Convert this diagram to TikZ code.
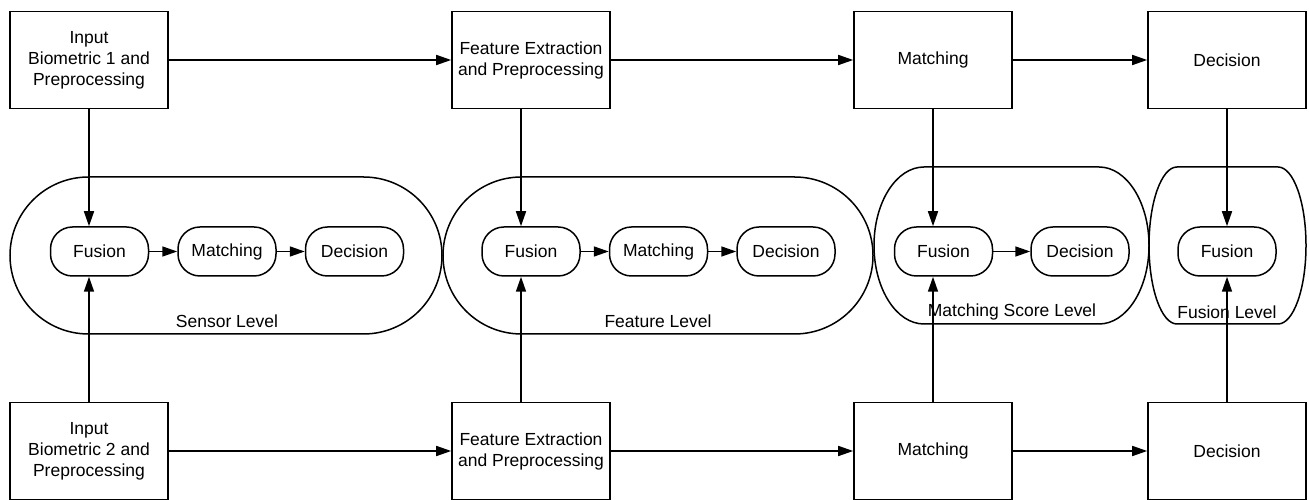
\documentclass[tikz,border=0pt]{standalone}
\usepackage{fontspec}
\setmainfont{Liberation Sans}
\usetikzlibrary{arrows.meta,calc}
\begin{document}
\begin{tikzpicture}[x=1pt,y=1pt,
  font=\fontsize{17.5}{21}\selectfont,
  box/.style={draw,line width=1.6pt,minimum width=158,minimum height=97,align=center,inner sep=2pt},
  pill/.style={draw,line width=1.5pt,rounded corners=22,minimum width=98,minimum height=49,inner sep=2pt},
  cont/.style={draw,line width=1.5pt},
  arr/.style={line width=1.6pt,-{Triangle[length=15pt,width=10pt]}},
  lvl/.style={inner sep=0pt}]
\useasboundingbox (0,0) rectangle (1309,500);
% containers (half-ellipse ends)
\newcommand\capsulepath[6]{%
  \draw[cont] (#1+#5,#4) -- (#3-#5,#4)
    arc[start angle=90,end angle=-90,x radius=#5,y radius=#6]
    -- (#1+#5,#2)
    arc[start angle=270,end angle=90,x radius=#5,y radius=#6] -- cycle;}
\capsulepath{10}{166}{442}{323}{78.5}{78.5}
\capsulepath{443}{166}{873}{323}{78.5}{78.5}
\capsulepath{874}{176}{1149}{333}{50}{78.5}
\capsulepath{1149}{176}{1306}{333}{28}{78.5}
% level labels
\node[lvl] (lsen) at (227,178.5) {Sensor Level};
\node[lvl] (lfea) at (658,178.5) {Feature Level};
\node[lvl] (lms)  at (1012,188) {Matching Score Level};
\node[lvl] (lfl)  at (1227,188) {Fusion Level};
% top row
\node[box] (in1) at (89,440) {Input\\Biometric 1 and\\Preprocessing};
\node[box] (fe1) at (531,440) {Feature Extraction\\and Preprocessing};
\node[box] (m1)  at (933,440) {Matching};
\node[box] (d1)  at (1227,440) {Decision};
% bottom row
\node[box] (in2) at (89,49) {Input\\Biometric 2 and\\Preprocessing};
\node[box] (fe2) at (531,49) {Feature Extraction\\and Preprocessing};
\node[box] (m2)  at (933,49) {Matching};
\node[box] (d2)  at (1227,49) {Decision};
% pills
\node[pill] (sf) at (99.5,248.5) {Fusion};
\node[pill] (sm) at (227,248.5) {Matching};
\node[pill] (sd) at (354.5,248.5) {Decision};
\node[pill] (ff) at (531,248.5) {Fusion};
\node[pill] (fm) at (658.5,248.5) {Matching};
\node[pill] (fd) at (786,248.5) {Decision};
\node[pill] (mf) at (943.5,248.5) {Fusion};
\node[pill] (md) at (1080,248.5) {Decision};
\node[pill] (lf) at (1227,248.5) {Fusion};
% horizontal arrows
\draw[arr] (in1) -- (fe1);
\draw[arr] (fe1) -- (m1);
\draw[arr] (m1) -- (d1);
\draw[arr] (in2) -- (fe2);
\draw[arr] (fe2) -- (m2);
\draw[arr] (m2) -- (d2);
\draw[arr] (sf) -- (sm);
\draw[arr] (sm) -- (sd);
\draw[arr] (ff) -- (fm);
\draw[arr] (fm) -- (fd);
\draw[arr] (mf) -- (md);
% vertical arrows
\coordinate (fe1s) at ([xshift=-10pt]fe1.south);
\coordinate (fe2n) at ([xshift=-10pt]fe2.north);
\draw[arr] (in1.south) -- (in1.south |- sf.north);
\draw[arr] (in2.north) -- (in2.north |- sf.south);
\draw[arr] (fe1s) -- (fe1s |- ff.north);
\draw[arr] (fe2n) -- (fe2n |- ff.south);
\draw[arr] (m1.south) -- (m1.south |- mf.north);
\draw[arr] (m2.north) -- (m2.north |- mf.south);
\draw[arr] (d1.south) -- (lf.north);
\draw[arr] (d2.north) -- (lf.south);
\end{tikzpicture}
\end{document}
